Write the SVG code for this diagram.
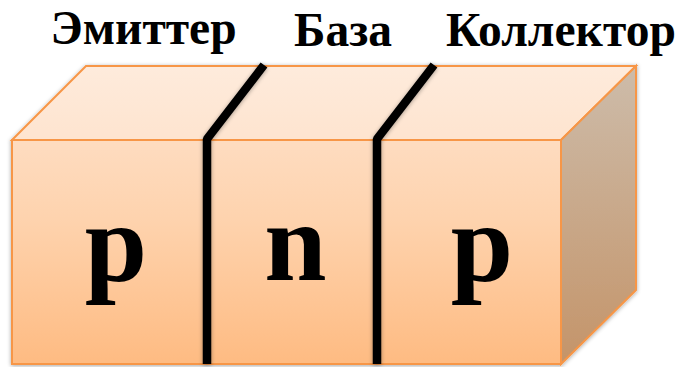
<svg xmlns="http://www.w3.org/2000/svg" width="679" height="367" viewBox="0 0 679 367">
<defs>
<linearGradient id="front" x1="0" y1="0" x2="0" y2="1"><stop offset="0" stop-color="#fedcc0"/><stop offset="0.35" stop-color="#fed3ae"/><stop offset="1" stop-color="#febb82"/></linearGradient>
<linearGradient id="top" x1="0" y1="0" x2="0" y2="1"><stop offset="0" stop-color="#feebdc"/><stop offset="1" stop-color="#fee4cf"/></linearGradient>
<linearGradient id="side" x1="0" y1="0" x2="0" y2="1"><stop offset="0" stop-color="#cdbcaa"/><stop offset="1" stop-color="#c49469"/></linearGradient>
<filter id="sh" x="-5%" y="-5%" width="110%" height="110%"><feGaussianBlur in="SourceAlpha" stdDeviation="2"/><feOffset dx="0" dy="1"/><feComponentTransfer><feFuncA type="linear" slope="0.35"/></feComponentTransfer><feMerge><feMergeNode/><feMergeNode in="SourceGraphic"/></feMerge></filter>
<style>
.edge{stroke:#f79646;stroke-width:2;stroke-linejoin:miter}
.wire{fill:none;stroke:#000;stroke-width:8.5;stroke-linejoin:bevel}
text{font-family:"Liberation Serif","Times New Roman",serif;font-weight:bold;fill:#000}
.head{font-size:47.5px}
.big{font-size:112px;text-anchor:middle}
</style>
</defs>
<g id="block" filter="url(#sh)">
<path class="edge" fill="url(#top)" d="M12 140L86 66H636L561 140Z"/>
<path class="edge" fill="url(#side)" d="M561 140L636 66V290L561 364Z"/>
<rect class="edge" fill="url(#front)" x="12" y="140" width="549" height="224"/>
</g>
<g id="connectors" filter="url(#sh)">
<path class="wire" d="M264 65L207 139V364"/>
<path class="wire" d="M434 65L377 139V364"/>
</g>
<g id="labels">
<text id="emitter" class="head" x="50.5" y="44">Эмиттер</text>
<text id="base" class="head" x="294" y="46">База</text>
<text id="collector" class="head" x="446" y="46">Коллектор</text>
<text id="p1" class="big" x="116" y="281">p</text>
<text id="n" class="big" x="295.500" y="280">n</text>
<text id="p2" class="big" x="482" y="281">p</text>
</g>
</svg>
